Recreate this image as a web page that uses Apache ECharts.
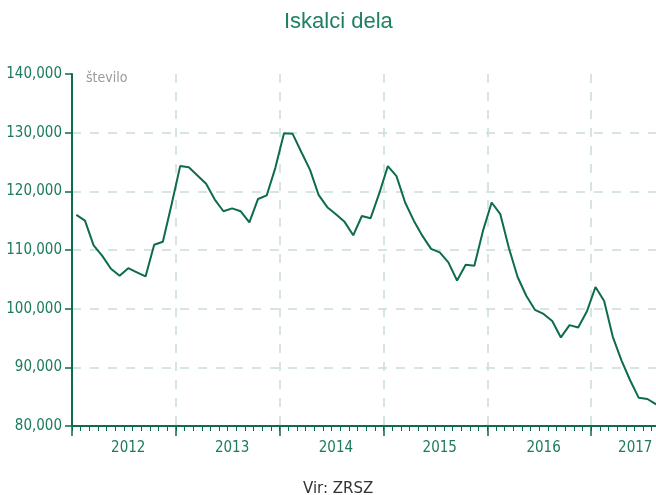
<!DOCTYPE html>
<html>
<head>
<meta charset="utf-8">
<script src="https://cdn.jsdelivr.net/npm/echarts@6/dist/echarts.min.js"></script>
<style>
html,body{margin:0;padding:0;background:#fff;}
#c{width:656px;height:495px;}
</style>
</head>
<body>
<div id="c"></div>
<script>
var titleText = 'Iskalci dela';
var sourceText = 'Vir: ZRSZ';
var unitText = 'število';
var years = ['2012', '2013', '2014', '2015', '2016', '2017'];
var monthNames = ['jan', 'feb', 'mar', 'apr', 'maj', 'jun', 'jul', 'avg', 'sep', 'okt', 'nov', 'dec'];
var v2012 = [116000, 115000, 110800, 109000, 106800, 105600, 106900, 106200, 105500, 110900, 111400, 117700];
var v2013 = [124300, 124100, 122700, 121300, 118600, 116600, 117100, 116600, 114700, 118700, 119300, 124000];
var v2014 = [129900, 129800, 126700, 123700, 119400, 117300, 116100, 114800, 112500, 115800, 115400, 119600];
var v2015 = [124300, 122600, 118100, 115000, 112400, 110200, 109600, 107900, 104800, 107500, 107300, 113300];
var v2016 = [118100, 116100, 110300, 105400, 102200, 99800, 99100, 97900, 95100, 97200, 96800, 99500];
var v2017 = [103700, 101300, 95200, 91200, 87800, 84800, 84600, 83700];

var categories = [];
years.forEach(function (y) { monthNames.forEach(function (m) { categories.push(m + ' ' + y); }); });
var values = [].concat(v2012, v2013, v2014, v2015, v2016, v2017);

var green = '#0d6b4f';
var textGreen = '#1c7a5e';
var gridColor = '#c9ddd6';
var narrow = '"DejaVu Sans Condensed", "Liberation Sans Narrow", sans-serif';

var chart = echarts.init(document.getElementById('c'), null, {renderer: 'canvas'});
chart.setOption({
  animation: false,
  backgroundColor: '#ffffff',
  title: [
    {text: titleText, left: 279, top: 6,
     textStyle: {color: '#1f7f62', fontSize: 22, fontWeight: 'normal', fontFamily: 'Liberation Sans, sans-serif'}},
    {text: sourceText, left: 298, top: 477,
     textStyle: {color: '#333333', fontSize: 15, fontWeight: 'normal', fontFamily: 'DejaVu Sans, sans-serif'}}
  ],
  grid: {left: 72, top: 74, width: 623, height: 352, containLabel: false, outerBoundsMode: 'none'},
  xAxis: [
    {
      type: 'category', data: categories, boundaryGap: true,
      axisLine: {show: true, lineStyle: {color: green, width: 2}},
      axisTick: {show: true, interval: 0, length: 5, lineStyle: {color: green, width: 1}},
      axisLabel: {
        show: true, margin: 15,
        interval: function (i) { return (i % 12 === 6 && i < 60) || i === 65; },
        formatter: function (val, i) {
          var y = val.split(' ')[1];
          return i === 65 ? '{s|' + y + '}' : y;
        },
        color: textGreen, fontSize: 15, fontFamily: narrow,
        rich: {s: {color: textGreen, fontSize: 15, fontFamily: narrow, padding: [0, 7, 0, 0]}}
      },
      splitLine: {show: true, interval: function (i) { return i % 12 === 0 && i > 0; },
        lineStyle: {color: gridColor, width: 1.5, type: [9, 9]}}
    },
    {
      type: 'category', data: categories, boundaryGap: true, position: 'bottom',
      axisLine: {show: false},
      axisTick: {show: true, interval: function (i) { return i % 12 === 0; }, length: 10, lineStyle: {color: green, width: 1.5}},
      axisLabel: {show: false},
      splitLine: {show: false}
    }
  ],
  yAxis: {
    type: 'value', min: 80000, max: 140000, interval: 10000,
    name: unitText, nameLocation: 'end', nameGap: 3,
    nameTextStyle: {color: '#9a9a9a', fontSize: 14, fontFamily: narrow, align: 'left', verticalAlign: 'top', padding: [0, 0, 0, 14]},
    axisLine: {show: true, lineStyle: {color: green, width: 2}},
    axisTick: {show: true, length: 7, lineStyle: {color: green, width: 1.5}},
    axisLabel: {color: textGreen, fontSize: 15, fontFamily: narrow, margin: 10,
      formatter: function (v) { return v.toLocaleString('en-US'); }},
    splitLine: {show: true, showMinLine: false, showMaxLine: false, lineStyle: {color: gridColor, width: 1.5, type: [9, 9]}}
  },
  series: [{
    type: 'line', data: values, xAxisIndex: 0, showSymbol: false, symbol: 'none',
    lineStyle: {color: green, width: 2}, itemStyle: {color: green}, clip: true
  }]
});
</script>
</body>
</html>
